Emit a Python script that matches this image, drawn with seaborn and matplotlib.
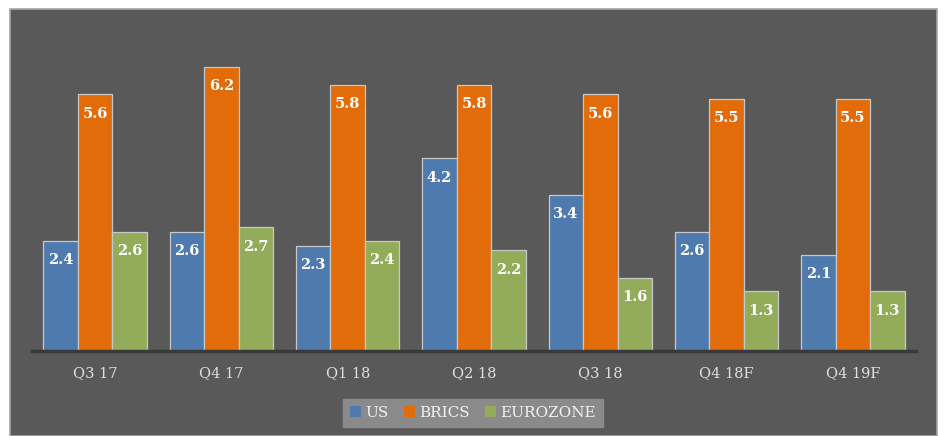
import pandas as pd
import numpy as np
import seaborn as sns
import matplotlib.pyplot as plt
from matplotlib.patches import Rectangle

quarters = ['Q3 17', 'Q4 17', 'Q1 18', 'Q2 18', 'Q3 18', 'Q4 18F', 'Q4 19F']
us = [2.4, 2.6, 2.3, 4.2, 3.4, 2.6, 2.1]
brics = [5.6, 6.2, 5.8, 5.8, 5.6, 5.5, 5.5]
eurozone = [2.6, 2.7, 2.4, 2.2, 1.6, 1.3, 1.3]
series = ['US', 'BRICS', 'EUROZONE']
colors = {'US': '#4e7aae', 'BRICS': '#e36c0a', 'EUROZONE': '#92ac5a'}

df = pd.DataFrame({
    'quarter': quarters * 3,
    'series': ['US'] * 7 + ['BRICS'] * 7 + ['EUROZONE'] * 7,
    'value': us + brics + eurozone,
})

sns.set_style('white')
plt.rcParams['font.family'] = ['DejaVu Serif']

fig = plt.figure(figsize=(9.45, 4.36), dpi=100)
fig.patch.set_facecolor('white')
fig.patches.append(Rectangle((10 / 945, 0), 927 / 945, 427 / 436,
                             transform=fig.transFigure, facecolor='#595959',
                             edgecolor='#a6a6a6', linewidth=1.2, zorder=-5))

ax = fig.add_axes([32 / 945, 85 / 436, 884 / 945, 321 / 436])
ax.set_facecolor('none')

sns.barplot(data=df, x='quarter', y='value', hue='series', hue_order=series,
            palette=colors, width=0.82, edgecolor='#c8c8c8', linewidth=0.9,
            saturation=1, ax=ax)

ax.set_ylim(0, 7)
ax.set_xlim(-0.5, 6.5)
ax.set_xlabel('')
ax.set_ylabel('')
ax.set_yticks([])
for s in ['top', 'right', 'left']:
    ax.spines[s].set_visible(False)
ax.spines['bottom'].set_color('#3a3a3a')
ax.spines['bottom'].set_linewidth(2.5)
ax.tick_params(axis='x', length=0, pad=11, labelsize=10.5, labelcolor='#e0e0e0')

for c in ax.containers:
    ax.bar_label(c, fmt='%.1f', padding=-19, color='white',
                 fontweight='bold', fontsize=10.5)

handles, labels = ax.get_legend_handles_labels()
ax.get_legend().remove()
leg = fig.legend(handles, labels, ncol=3, loc='center',
                 bbox_to_anchor=(473 / 945, 23 / 436), frameon=True,
                 fancybox=False, facecolor='#8a8a8a', edgecolor='#8a8a8a',
                 framealpha=1, handlelength=0.7, handleheight=0.7,
                 handletextpad=0.3, columnspacing=1.0, borderpad=0.45,
                 prop={'size': 11})
for t in leg.get_texts():
    t.set_color('#f2f2f2')
for h in leg.legend_handles:
    h.set_edgecolor('none')

fig.savefig('out.png', dpi=100)
